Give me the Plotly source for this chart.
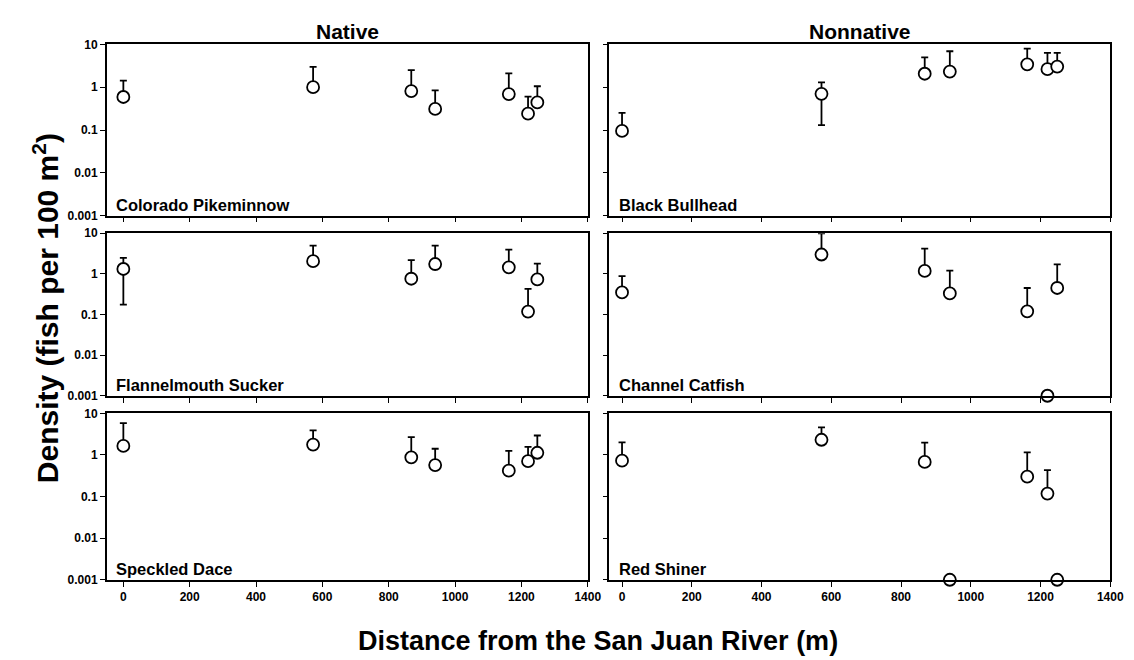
import plotly.graph_objects as go
from plotly.subplots import make_subplots

# ---------------- data ----------------
distance_m = [0, 572, 868, 940, 1162, 1220, 1248]

species = ["Colorado Pikeminnow", "Black Bullhead",
           "Flannelmouth Sucker", "Channel Catfish",
           "Speckled Dace", "Red Shiner"]

# mean density (fish per 100 m^2); 0 = none caught (drawn on the axis floor)
pikeminnow_mean = [0.59, 1.00, 0.81, 0.31, 0.69, 0.24, 0.44]
pikeminnow_upper = [1.42, 2.97, 2.49, 0.84, 2.09, 0.60, 1.05]
pikeminnow_lower = [None] * 7

bullhead_mean = [0.095, 0.70, 2.06, 2.32, 3.42, 2.63, 3.03]
bullhead_upper = [0.25, 1.30, 4.95, 6.9, 7.95, 6.3, 6.3]
bullhead_lower = [None, 0.13, None, None, None, None, None]

sucker_mean = [1.32, 2.06, 0.76, 1.75, 1.45, 0.118, 0.73]
sucker_upper = [2.48, 4.94, 2.18, 4.94, 3.95, 0.43, 1.78]
sucker_lower = [0.175, None, None, None, None, None, None]

catfish_mean = [0.35, 3.0, 1.18, 0.33, 0.12, 0, 0.45]
catfish_upper = [0.88, 10.0, 4.2, 1.2, 0.45, None, 1.72]
catfish_lower = [None] * 7

dace_mean = [1.65, 1.78, 0.88, 0.57, 0.42, 0.71, 1.13]
dace_upper = [5.8, 3.9, 2.69, 1.41, 1.26, 1.57, 2.94]
dace_lower = [None] * 7

shiner_mean = [0.73, 2.32, 0.68, 0, 0.30, 0.118, 0]
shiner_upper = [2.0, 4.6, 1.97, None, 1.16, 0.43, None]
shiner_lower = [None] * 7

y_tick_vals = [0.001, 0.01, 0.1, 1, 10]
y_tick_text = ["0.001", "0.01", "0.1", "1", "10"]
x_tick_vals = [0, 200, 400, 600, 800, 1000, 1200, 1400]

column_titles = ["Native", "Nonnative"]
x_title = "Distance from the San Juan River (m)"
y_title = "Density (fish per 100 m<sup>2</sup>)"

AXIS_FLOOR = 0.001

series = [
    (pikeminnow_mean, pikeminnow_upper, pikeminnow_lower),
    (bullhead_mean, bullhead_upper, bullhead_lower),
    (sucker_mean, sucker_upper, sucker_lower),
    (catfish_mean, catfish_upper, catfish_lower),
    (dace_mean, dace_upper, dace_lower),
    (shiner_mean, shiner_upper, shiner_lower),
]

# ---------------- figure ----------------
W, H = 1134, 660
FONT = "Liberation Sans, Arial, Helvetica, sans-serif"

fig = make_subplots(rows=3, cols=2)

# pixel boxes of the panels
col_px = [(100, 587), (609, 1116)]
row_px = [(30, 205), (223, 389), (407, 577)]
x_ranges = [[-50, 1400], [-36, 1400]]

for i, (mean, upper, lower) in enumerate(series):
    r, c = i // 2 + 1, i % 2 + 1
    y = [m if m > 0 else AXIS_FLOOR for m in mean]
    plus = [(u - m) if (u is not None and m > 0) else 0 for m, u in zip(mean, upper)]
    minus = [(m - l) if (l is not None and m > 0) else 0 for m, l in zip(mean, lower)]
    fig.add_trace(go.Scatter(
        x=distance_m, y=y, mode="markers",
        marker=dict(symbol="circle", size=12, color="white",
                    line=dict(color="black", width=1.8)),
        error_y=dict(type="data", symmetric=False, array=plus, arrayminus=minus,
                     color="black", thickness=1.8, width=3.5),
        cliponaxis=False, showlegend=False,
    ), row=r, col=c)

axis_common = dict(showline=True, linecolor="black", linewidth=1.6, mirror=True,
                   ticks="outside", ticklen=5, tickwidth=1.4, tickcolor="black",
                   showgrid=False, zeroline=False,
                   tickfont=dict(family=FONT, size=12, color="black", weight="bold"))

for i in range(6):
    r, c = i // 2 + 1, i % 2 + 1
    x0, x1 = col_px[c - 1]
    y0, y1 = row_px[r - 1]
    fig.update_xaxes(domain=[x0 / W, x1 / W], range=x_ranges[c - 1],
                     tickvals=x_tick_vals, showticklabels=(r == 3),
                     row=r, col=c, **axis_common)
    fig.update_yaxes(domain=[1 - y1 / H, 1 - y0 / H], type="log", range=[-3, 1],
                     tickvals=y_tick_vals, ticktext=y_tick_text,
                     showticklabels=(c == 1), row=r, col=c, **axis_common)

annotations = []
# panel labels
for i, name in enumerate(species):
    idx = i + 1
    xref = "x domain" if idx == 1 else f"x{idx} domain"
    yref = "y domain" if idx == 1 else f"y{idx} domain"
    annotations.append(dict(text=name, xref=xref, yref=yref, x=0.016, y=0.0,
                            xanchor="left", yanchor="bottom", showarrow=False,
                            font=dict(family=FONT, size=16.5, color="black", weight="bold")))
# column titles
for c, t in enumerate(column_titles):
    x0, x1 = col_px[c]
    annotations.append(dict(text=t, xref="paper", yref="paper",
                            x=(x0 + x1) / 2 / W, y=1 - 17 / H,
                            xanchor="center", yanchor="middle", showarrow=False,
                            font=dict(family=FONT, size=21, color="black", weight="bold")))
annotations.append(dict(text=x_title, xref="paper", yref="paper",
                        x=597 / W, y=1 - 640 / H, xanchor="center", yanchor="middle",
                        showarrow=False,
                        font=dict(family=FONT, size=27, color="black", weight="bold")))
annotations.append(dict(text=y_title, xref="paper", yref="paper",
                        x=38 / W, y=1 - 300 / H, xanchor="center", yanchor="middle",
                        textangle=-90, showarrow=False,
                        font=dict(family=FONT, size=30, color="black", weight="bold")))

fig.update_layout(width=W, height=H, margin=dict(l=0, r=0, t=0, b=0),
                  paper_bgcolor="white", plot_bgcolor="white",
                  annotations=annotations, showlegend=False)

fig.write_html("out.html")
